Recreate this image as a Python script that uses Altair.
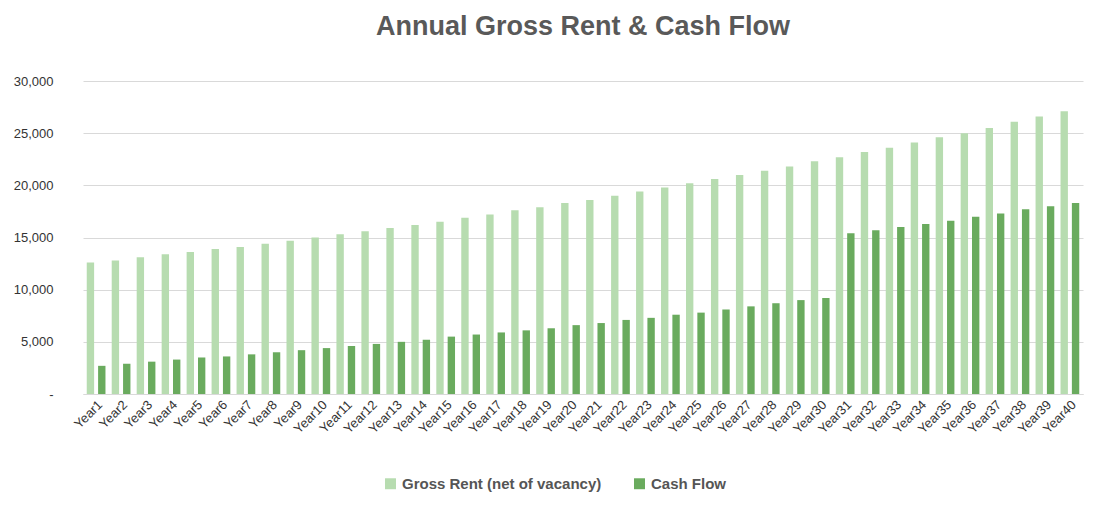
import altair as alt
import pandas as pd

years = [f"Year{i}" for i in range(1, 41)]
gross_rent = [12600, 12800, 13100, 13400, 13600, 13900, 14100, 14400, 14700, 15000,
              15300, 15600, 15900, 16200, 16500, 16900, 17200, 17600, 17900, 18300,
              18600, 19000, 19400, 19800, 20200, 20600, 21000, 21400, 21800, 22300,
              22700, 23200, 23600, 24100, 24600, 25000, 25500, 26100, 26600, 27100]
cash_flow = [2700, 2900, 3100, 3300, 3500, 3600, 3800, 4000, 4200, 4400,
             4600, 4800, 5000, 5200, 5500, 5700, 5900, 6100, 6300, 6600,
             6800, 7100, 7300, 7600, 7800, 8100, 8400, 8700, 9000, 9200,
             15400, 15700, 16000, 16300, 16600, 17000, 17300, 17700, 18000, 18300]
series = ["Gross Rent (net of vacancy)", "Cash Flow"]

df = pd.DataFrame({
    "year": years * 2,
    "series": [series[0]] * 40 + [series[1]] * 40,
    "value": gross_rent + cash_flow,
})

font = "Liberation Sans"

chart = alt.Chart(df).mark_bar().encode(
    x=alt.X("year:N", sort=years, title=None,
            scale=alt.Scale(paddingInner=0.25, paddingOuter=0.15),
            axis=alt.Axis(labelAngle=-45, labelFontSize=13, labelColor="#333",
                          ticks=False, domainColor="#d9d9d9", labelPadding=4)),
    xOffset=alt.XOffset("series:N", sort=series, scale=alt.Scale(paddingInner=0.35)),
    y=alt.Y("value:Q", title=None,
            scale=alt.Scale(domain=[0, 30000]),
            axis=alt.Axis(values=list(range(0, 30001, 5000)), domain=False, ticks=False,
                          labelExpr="datum.value == 0 ? '-' : format(datum.value, ',')",
                          labelFontSize=13, labelColor="#333", gridColor="#d9d9d9",
                          labelPadding=30)),
    color=alt.Color("series:N", sort=series,
                    scale=alt.Scale(domain=series, range=["#b7dcb0", "#6aab5e"]),
                    legend=alt.Legend(orient="none", legendX=300, legendY=395,
                                      direction="horizontal", title=None,
                                      labelFontSize=15, labelFontWeight="bold",
                                      labelColor="#555", symbolType="square",
                                      symbolSize=120, columnPadding=30, labelLimit=0)),
).properties(
    width=1000, height=313,
    title=alt.TitleParams("Annual Gross Rent & Cash Flow", fontSize=27, font=font,
                          fontWeight="bold", color="#595959", anchor="middle", offset=34),
).configure(font=font).configure_view(stroke=None)

chart.save("out.html", embed_options={"renderer": "svg", "actions": False})
